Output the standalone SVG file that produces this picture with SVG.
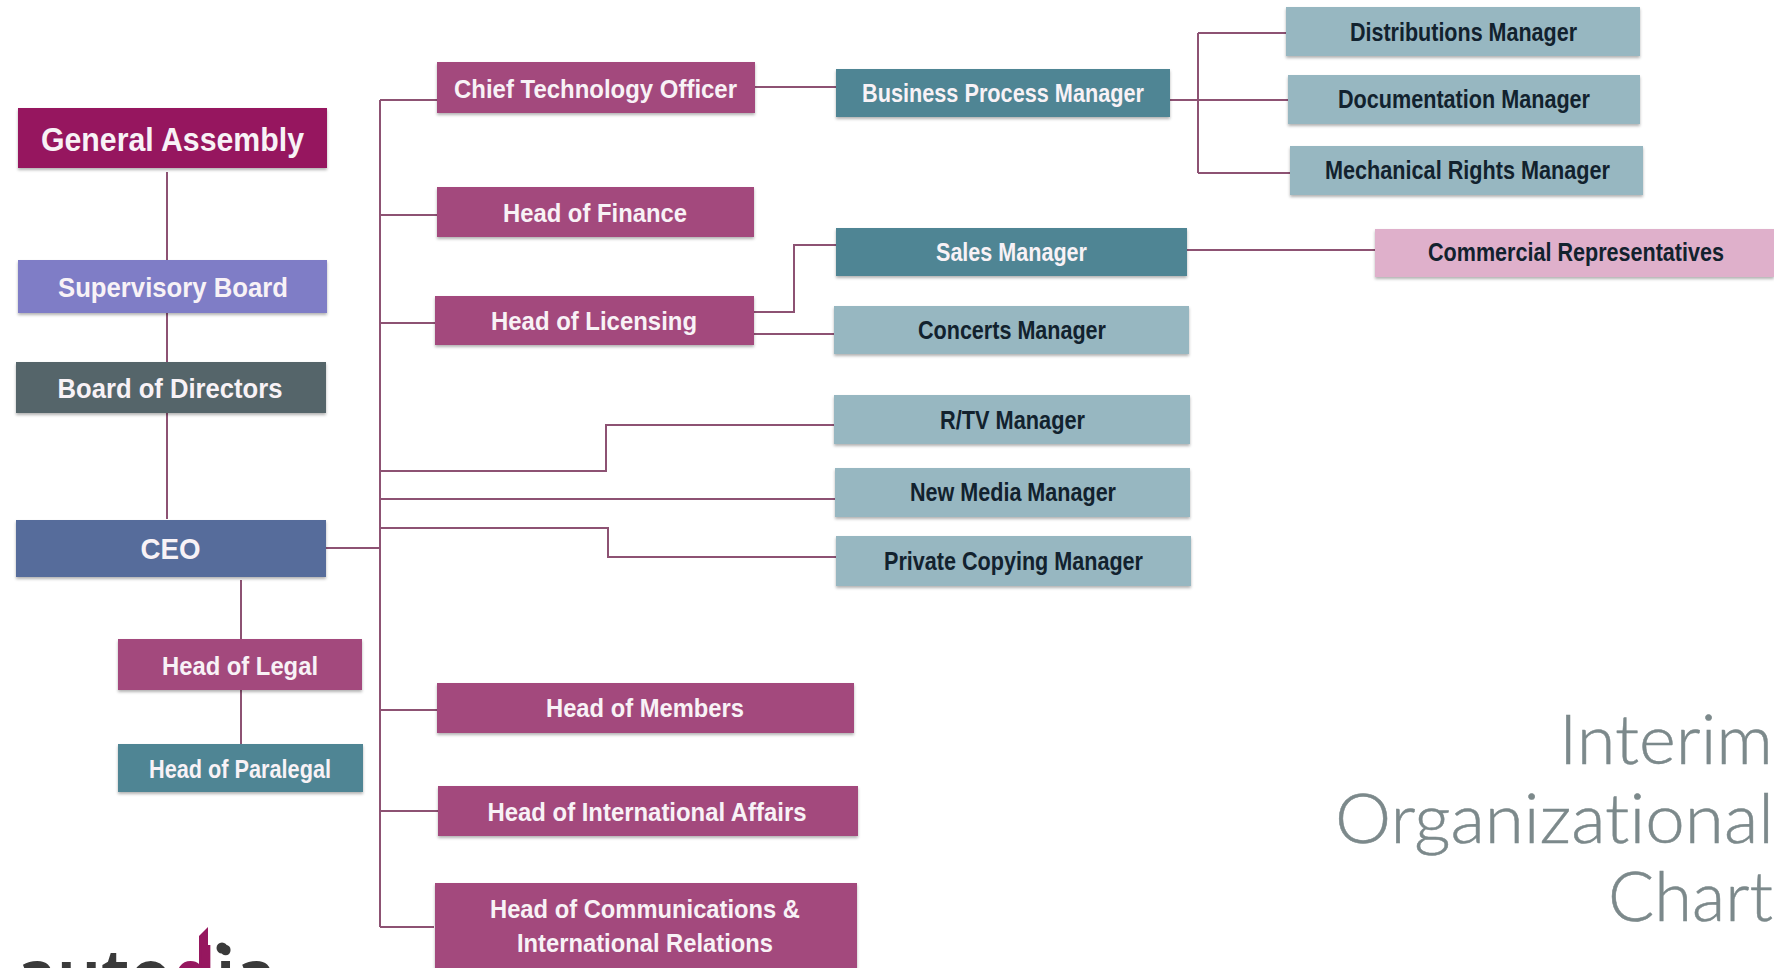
<svg xmlns="http://www.w3.org/2000/svg" width="1774" height="968" viewBox="0 0 1774 968">
<defs>
<filter id="sh" x="-5%" y="-15%" width="110%" height="135%"><feDropShadow dx="0" dy="2" stdDeviation="1.5" flood-color="#000" flood-opacity="0.3"/></filter>
</defs>
<style>
.box{filter:url(#sh)}
.lbl{font-family:"Liberation Sans",Arial,sans-serif;font-weight:700;text-anchor:middle;dominant-baseline:central;fill:#f8f2f6}
.dk{fill:#12222e}
.ttl{font-family:Lato,"Open Sans",sans-serif;font-weight:300;font-size:68px;fill:#7c898b;stroke:#7c898b;stroke-width:0.5;font-variant-ligatures:none}
.logo{font-family:"Noto Sans",sans-serif;font-weight:600;font-size:76px;fill:#3a3a3a}
#connectors path{fill:none;stroke:#8d5273;stroke-width:2}
.pu{fill:#a3487d}.te{fill:#4f8594}.lt{fill:#97b7c1}
</style>
<rect width="1774" height="968" fill="#fff"/>
<g id="connectors">
<path d="M167 172V519"/>
<path d="M241 580V744"/>
<path d="M326 548H380"/>
<path d="M380 100V927"/>
<path d="M380 100H437"/>
<path d="M380 215H437"/>
<path d="M380 323H435"/>
<path d="M380 471H606V425H834"/>
<path d="M380 499H835"/>
<path d="M380 528H608V557H836"/>
<path d="M380 710H437"/>
<path d="M380 811H438"/>
<path d="M380 927H434"/>
<path d="M755 87H836"/>
<path d="M1170 100H1288" stroke-width="3"/>
<path d="M1198 33V173"/>
<path d="M1198 33H1286"/>
<path d="M1198 173H1290"/>
<path d="M754 312H794V245H836"/>
<path d="M754 334H834"/>
<path d="M1187 250H1375"/>
</g>
<g id="general-assembly"><rect class="box" x="18" y="108" width="309" height="60" fill="#96175f"/><text class="lbl" x="172.500" y="139.500" font-size="33" textLength="263" lengthAdjust="spacingAndGlyphs">General Assembly</text></g>
<g id="supervisory-board"><rect class="box" x="18" y="260" width="309" height="53" fill="#7f7dc6"/><text class="lbl" x="173" y="287" font-size="28" textLength="230" lengthAdjust="spacingAndGlyphs">Supervisory Board</text></g>
<g id="board-of-directors"><rect class="box" x="16" y="362" width="310" height="51" fill="#55656a"/><text class="lbl" x="170" y="388.500" font-size="28" textLength="225" lengthAdjust="spacingAndGlyphs">Board of Directors</text></g>
<g id="ceo"><rect class="box" x="16" y="520" width="310" height="57" fill="#566c9b"/><text class="lbl" x="170.500" y="548" font-size="30" textLength="60" lengthAdjust="spacingAndGlyphs">CEO</text></g>
<g id="head-of-legal"><rect class="box pu" x="118" y="639" width="244" height="51"/><text class="lbl" x="240" y="666" font-size="26" textLength="156" lengthAdjust="spacingAndGlyphs">Head of Legal</text></g>
<g id="head-of-paralegal"><rect class="box te" x="118" y="744" width="245" height="48"/><text class="lbl" x="240" y="769" font-size="25" textLength="182" lengthAdjust="spacingAndGlyphs">Head of Paralegal</text></g>
<g id="cto"><rect class="box pu" x="437" y="62" width="318" height="51"/><text class="lbl" x="595.500" y="88.500" font-size="26" textLength="283" lengthAdjust="spacingAndGlyphs">Chief Technology Officer</text></g>
<g id="head-of-finance"><rect class="box pu" x="437" y="187" width="317" height="50"/><text class="lbl" x="595" y="213" font-size="26" textLength="184" lengthAdjust="spacingAndGlyphs">Head of Finance</text></g>
<g id="head-of-licensing"><rect class="box pu" x="435" y="296" width="319" height="49"/><text class="lbl" x="594" y="321" font-size="26" textLength="206" lengthAdjust="spacingAndGlyphs">Head of Licensing</text></g>
<g id="business-process-manager"><rect class="box te" x="836" y="69" width="334" height="48"/><text class="lbl" x="1003" y="93" font-size="25" textLength="282" lengthAdjust="spacingAndGlyphs">Business Process Manager</text></g>
<g id="sales-manager"><rect class="box te" x="836" y="228" width="351" height="48"/><text class="lbl" x="1011.500" y="252" font-size="25" textLength="151" lengthAdjust="spacingAndGlyphs">Sales Manager</text></g>
<g id="distributions-manager"><rect class="box lt" x="1286" y="7" width="354" height="49"/><text class="lbl dk" x="1463.500" y="32" font-size="25" textLength="227" lengthAdjust="spacingAndGlyphs">Distributions Manager</text></g>
<g id="documentation-manager"><rect class="box lt" x="1288" y="75" width="352" height="49"/><text class="lbl dk" x="1464" y="99" font-size="25" textLength="252" lengthAdjust="spacingAndGlyphs">Documentation Manager</text></g>
<g id="mechanical-rights-manager"><rect class="box lt" x="1290" y="146" width="353" height="49"/><text class="lbl dk" x="1467.500" y="170" font-size="25" textLength="285" lengthAdjust="spacingAndGlyphs">Mechanical Rights Manager</text></g>
<g id="commercial-representatives"><rect class="box" x="1375" y="229" width="399" height="48" fill="#dfb0cb"/><text class="lbl dk" x="1576" y="252" font-size="25" textLength="296" lengthAdjust="spacingAndGlyphs">Commercial Representatives</text></g>
<g id="concerts-manager"><rect class="box lt" x="834" y="306" width="355" height="48"/><text class="lbl dk" x="1012" y="330" font-size="25" textLength="188" lengthAdjust="spacingAndGlyphs">Concerts Manager</text></g>
<g id="rtv-manager"><rect class="box lt" x="834" y="395" width="356" height="49"/><text class="lbl dk" x="1012.500" y="420" font-size="25" textLength="145" lengthAdjust="spacingAndGlyphs">R/TV Manager</text></g>
<g id="new-media-manager"><rect class="box lt" x="835" y="468" width="355" height="49"/><text class="lbl dk" x="1013" y="492" font-size="25" textLength="206" lengthAdjust="spacingAndGlyphs">New Media Manager</text></g>
<g id="private-copying-manager"><rect class="box lt" x="836" y="536" width="355" height="50"/><text class="lbl dk" x="1013.500" y="561" font-size="25" textLength="259" lengthAdjust="spacingAndGlyphs">Private Copying Manager</text></g>
<g id="head-of-members"><rect class="box pu" x="437" y="683" width="417" height="50"/><text class="lbl" x="645" y="708" font-size="26" textLength="198" lengthAdjust="spacingAndGlyphs">Head of Members</text></g>
<g id="head-of-international-affairs"><rect class="box pu" x="438" y="786" width="420" height="50"/><text class="lbl" x="647" y="812" font-size="26" textLength="319" lengthAdjust="spacingAndGlyphs">Head of International Affairs</text></g>
<g id="head-of-communications"><rect class="box pu" x="435" y="883" width="422" height="85"/><text class="lbl" x="645" y="908.500" font-size="26" textLength="310" lengthAdjust="spacingAndGlyphs">Head of Communications &amp;</text><text class="lbl" x="645" y="943" font-size="26" textLength="256" lengthAdjust="spacingAndGlyphs">International Relations</text></g>
<g id="title">
<text class="ttl" x="1559" y="764" textLength="214" lengthAdjust="spacingAndGlyphs">Interim</text>
<text class="ttl" x="1335" y="843" textLength="439" lengthAdjust="spacingAndGlyphs">Organizational</text>
<text class="ttl" x="1608" y="921" textLength="165" lengthAdjust="spacingAndGlyphs">Chart</text>
</g>
<g id="logo">
<polygon points="199,936 208,927 208,968 199,968" fill="#96175f"/>
<circle cx="222" cy="948" r="5.500" fill="#3a3a3a"/>
<text class="logo" x="16" y="1003" textLength="260" lengthAdjust="spacingAndGlyphs">auto<tspan fill="#96175f">d</tspan>ia</text>
</g>
</svg>
